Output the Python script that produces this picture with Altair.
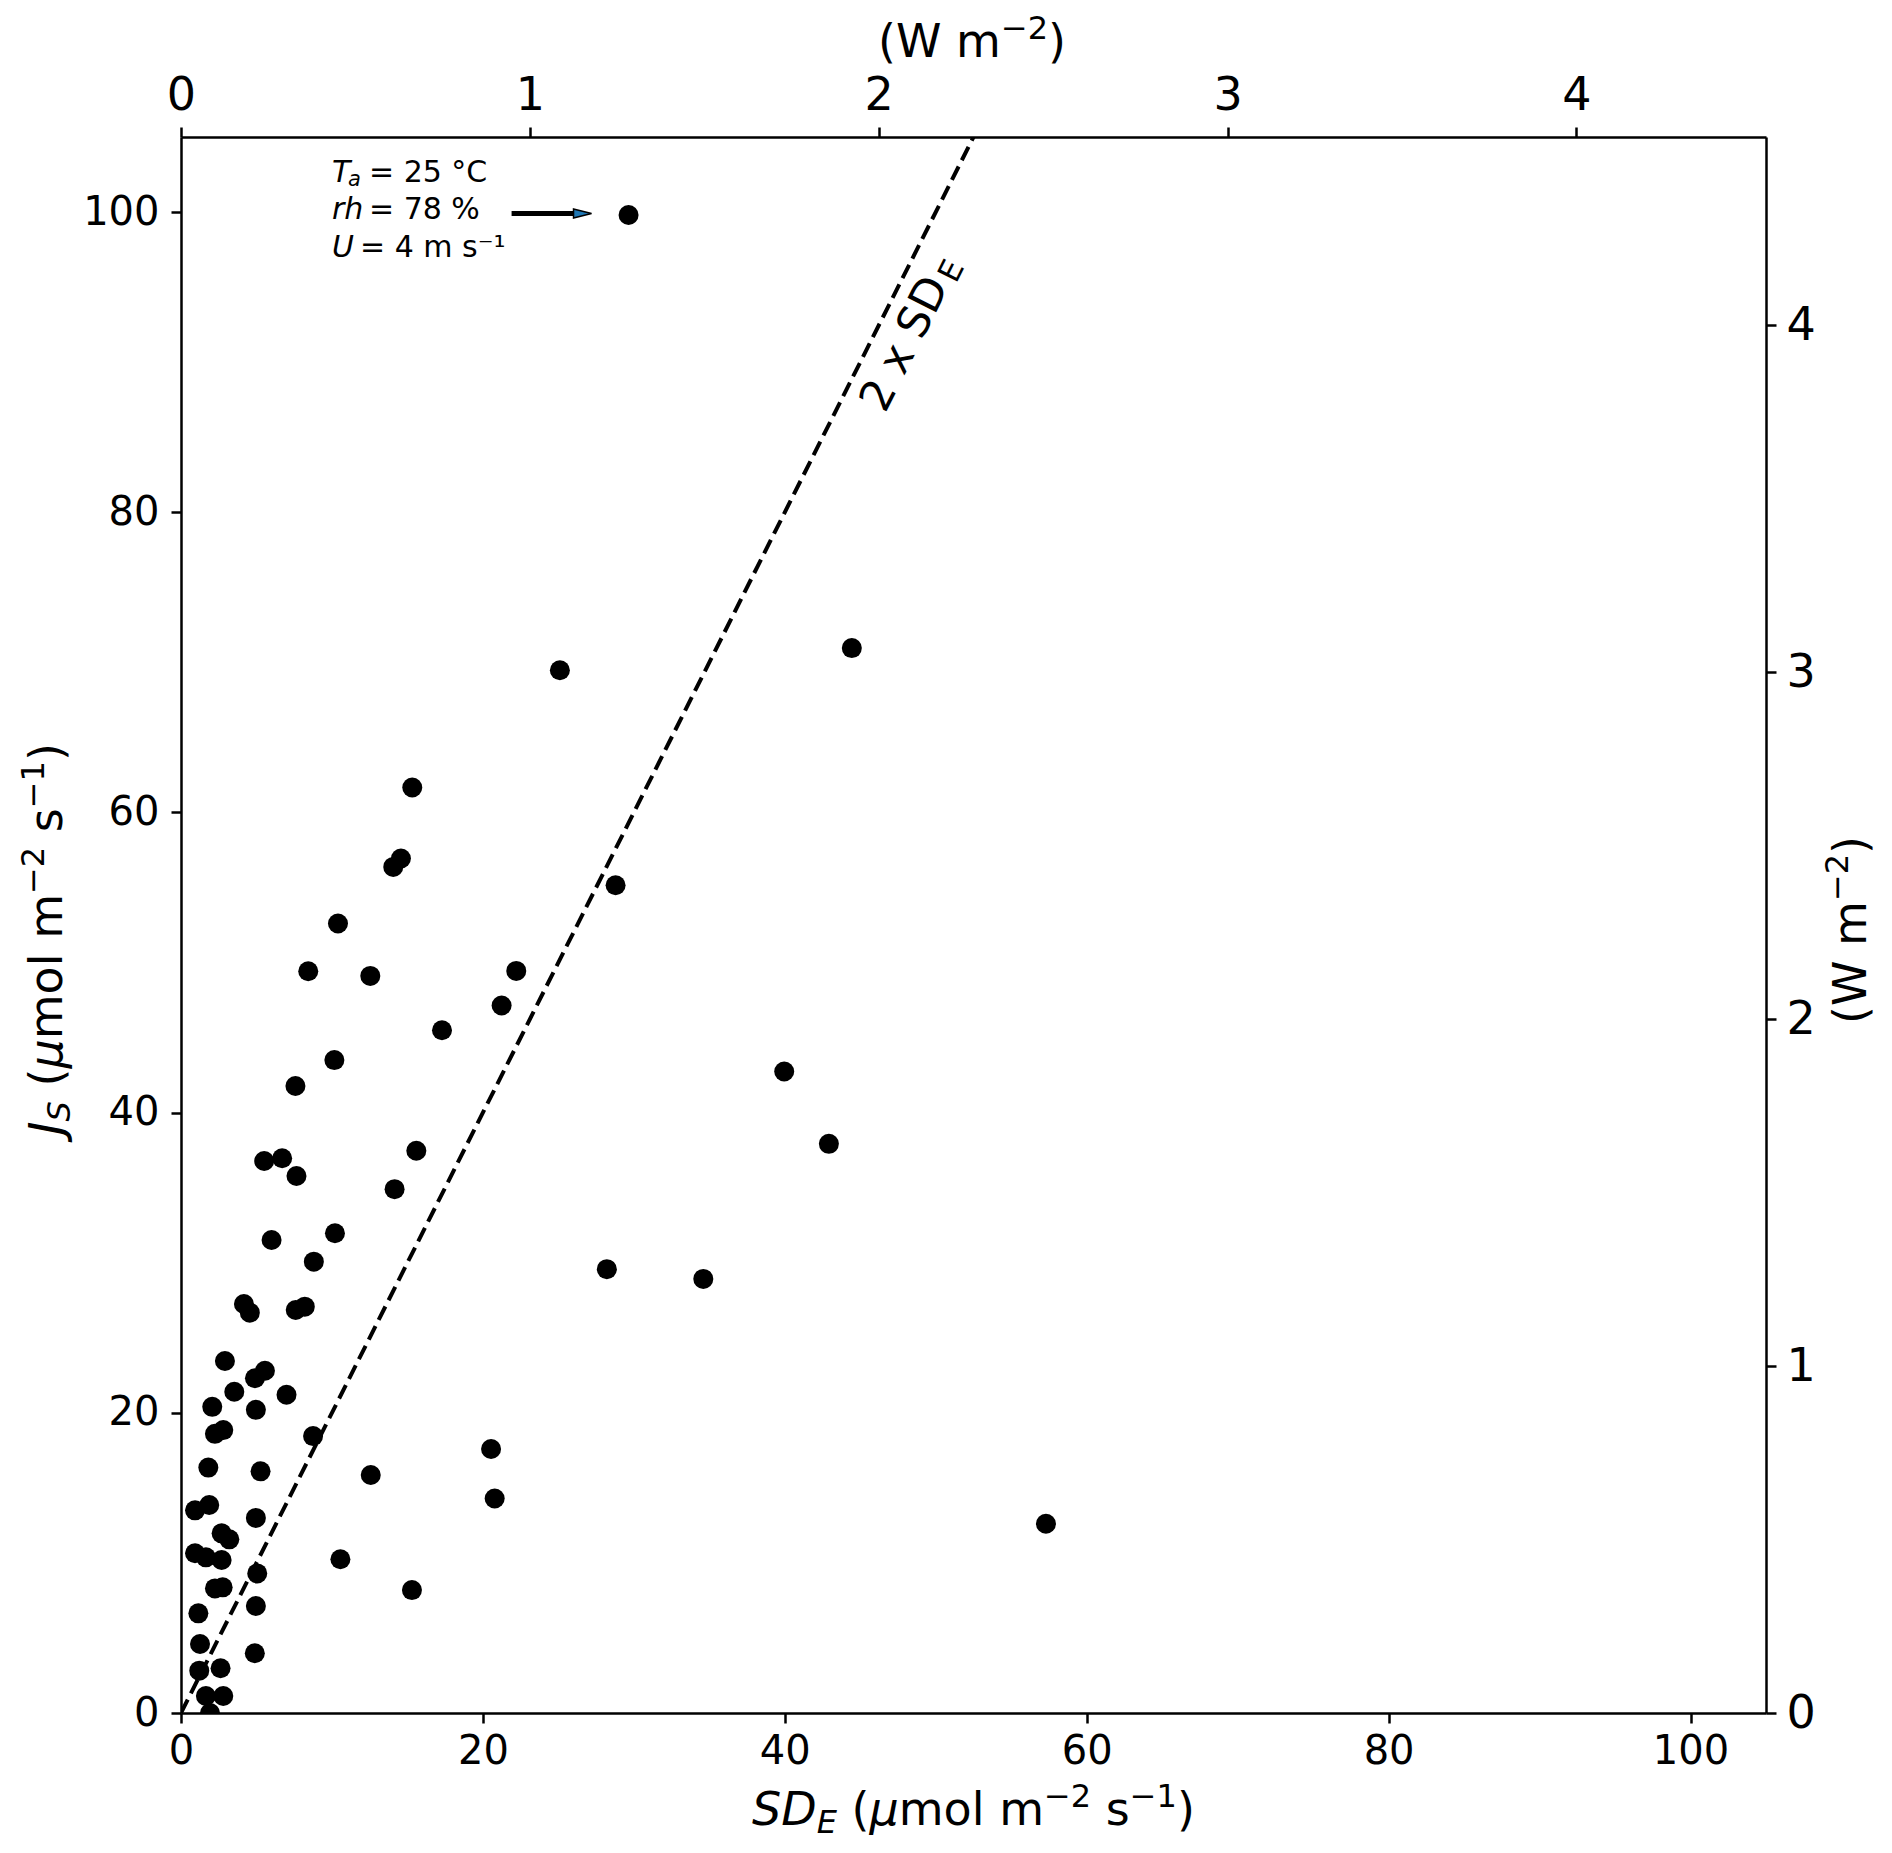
import altair as alt
import pandas as pd

# ---------------- data ----------------
SDE = [29.65, 44.44, 25.1, 15.32, 14.57, 14.06, 28.79, 10.4, 8.43, 12.54,
       22.21, 21.24, 17.29, 10.16, 39.96, 7.58, 42.92, 15.59, 5.51, 6.7,
       7.65, 14.15, 10.2, 6.0, 8.8, 28.21, 34.6, 4.17, 4.56, 7.6,
       8.2, 2.91, 5.56, 4.9, 3.53, 6.99, 2.07, 4.96, 2.8, 2.25,
       8.75, 20.54, 1.81, 5.27, 12.57, 20.78, 1.87, 0.93, 4.96, 2.69,
       3.2, 57.3, 0.93, 1.65, 2.69, 10.56, 5.05, 2.25, 2.76, 15.3,
       4.96, 1.15, 1.26, 4.89, 1.21, 2.62, 1.65, 2.8, 1.92]
JS = [99.8, 70.95, 69.47, 61.66, 56.93, 56.37, 55.15, 52.6, 49.42, 49.11,
      49.44, 47.14, 45.49, 43.5, 42.74, 41.77, 37.92, 37.46, 36.78, 36.96,
      35.78, 34.9, 31.96, 31.51, 30.07, 29.57, 28.92, 27.25, 26.67, 26.85,
      27.07, 23.45, 22.8, 22.3, 21.4, 21.2, 20.4, 20.2, 18.85, 18.6,
      18.45, 17.59, 16.35, 16.1, 15.86, 14.29, 13.86, 13.5, 13.0, 11.97,
      11.57, 12.61, 10.64, 10.37, 10.19, 10.24, 9.3, 8.3, 8.37, 8.19,
      7.13, 6.64, 4.6, 3.98, 2.82, 2.98, 1.13, 1.13, 0.0]

LINE_SDE = [0.0, 52.5]
LINE_JS = [0.0, 105.0]

AXIS_MAX = 105.0
W_PER_UMOL = 0.04327
W_MAX = AXIS_MAX * W_PER_UMOL

X_TICKS = [0, 20, 40, 60, 80, 100]
Y_TICKS = [0, 20, 40, 60, 80, 100]
W_TICKS = [0, 1, 2, 3, 4]

ANNOT_X = 10.0
ANNOT_Y = [102.0, 99.56, 97.0]
ARROW_X = [21.9, 26.0]
ARROW_Y = 99.9
ARROW_HEAD_X = 26.6
LINE_LABEL_X = 48.0
LINE_LABEL_Y = 91.2

FONT = "DejaVu Sans"
W, H = 1585, 1576
FS = 46       # axis-title font size
FSS = 32      # sub/superscript font size

# DejaVu Sans advance widths (em) for text layout of the composed titles
ADV = {"(": 0.390, ")": 0.390, "μ": 0.638, "m": 0.974, "o": 0.612, "l": 0.278,
       " ": 0.318, "s": 0.521, "−": 0.838, "2": 0.636, "1": 0.636, "W": 0.989,
       "S": 0.635, "D": 0.770, "E": 0.632, "J": 0.295}

# ---------------- encodings ----------------
xs = alt.Scale(domain=[0, AXIS_MAX], nice=False, zero=False)
ys = alt.Scale(domain=[0, AXIS_MAX], nice=False, zero=False)

common_axis = dict(grid=False, title=None, format="d", tickSize=10, tickWidth=2.5,
                   domainWidth=2.5, domainColor="black", tickColor="black",
                   labelColor="black", labelFont=FONT, labelFontSize=40,
                   labelFlush=False)

x_enc = alt.X("x:Q", scale=xs,
              axis=alt.Axis(orient="bottom", values=X_TICKS, labelPadding=8, **common_axis))
y_enc = alt.Y("y:Q", scale=ys,
              axis=alt.Axis(orient="left", values=Y_TICKS, labelPadding=12, **common_axis))

pts_df = pd.DataFrame({"x": SDE, "y": JS})
line_df = pd.DataFrame({"x": LINE_SDE, "y": LINE_JS})

line = alt.Chart(line_df).mark_line(color="black", strokeWidth=4, strokeDash=[15, 7],
                                    clip=True).encode(x=x_enc, y=y_enc)
points = alt.Chart(pts_df).mark_circle(size=400, color="black", opacity=1,
                                       clip=True).encode(x=x_enc, y=y_enc)


def data_text(x, y, txt, size, italic=False, dx=0, dy=0, align="left",
              baseline="alphabetic", angle=0):
    df = pd.DataFrame({"x": [x], "y": [y], "t": [txt]})
    return alt.Chart(df).mark_text(
        font=FONT, fontSize=size, fontStyle="italic" if italic else "normal",
        dx=dx, dy=dy, align=align, baseline=baseline, angle=angle, color="black"
    ).encode(x=x_enc, y=y_enc, text="t:N")


def px_text(px, py, txt, size, italic=False, dx=0, dy=0, align="left",
            baseline="alphabetic", angle=0):
    df = pd.DataFrame({"t": [txt]})
    return alt.Chart(df).mark_text(
        font=FONT, fontSize=size, fontStyle="italic" if italic else "normal",
        dx=dx, dy=dy, align=align, baseline=baseline, angle=angle, color="black"
    ).encode(x=alt.value(px), y=alt.value(py), text="t:N")


def width(txt, size):
    return sum(ADV.get(c, 0.6) for c in txt) * size


def compose(pieces, x0, y0, vertical=False):
    """pieces: list of (text, size, italic, dy); a piece that is only spaces just advances."""
    layers = []
    pos = 0.0
    for txt, size, italic, dy in pieces:
        if txt.strip():
            if vertical:
                layers.append(px_text(x0, y0 - pos, txt, size, italic=italic, dy=dy, angle=270))
            else:
                layers.append(px_text(x0 + pos, y0, txt, size, italic=italic, dy=dy))
        pos += width(txt, size)
    return layers


UNIT_PIECES = [("(", FS, False, 0), ("μ", FS, True, 0), ("mol m", FS, False, 0),
               ("−2", FSS, False, -18), (" ", FS, False, 0), ("s", FS, False, 0),
               ("−1", FSS, False, -18), (")", FS, False, 0)]
X_TITLE = [("SD", FS, True, 0), ("E", FSS, True, 8), (" ", FS, False, 0)] + UNIT_PIECES
Y_TITLE = [("J", FS, True, 0), ("S", FSS, True, 8), (" ", FS, False, 0)] + UNIT_PIECES
W_TITLE = [("(W m", FS, False, 0), ("−2", FSS, False, -18), (")", FS, False, 0)]
w_title_len = sum(width(t, s) for t, s, _, _ in W_TITLE)

titles = (compose(X_TITLE, 571, 1688)
          + compose(Y_TITLE, -119, 998, vertical=True)
          + compose(W_TITLE, 791 - w_title_len / 2, -80)
          + compose(W_TITLE, W + 100, 793 + w_title_len / 2, vertical=True))

# annotation block
annot = [
    data_text(ANNOT_X, ANNOT_Y[0], "T", 30, italic=True),
    data_text(ANNOT_X, ANNOT_Y[0], "a", 21, italic=True, dx=16, dy=4),
    data_text(ANNOT_X, ANNOT_Y[0], "= 25 °C", 30, dx=37),
    data_text(ANNOT_X, ANNOT_Y[1], "rh", 30, italic=True),
    data_text(ANNOT_X, ANNOT_Y[1], "= 78 %", 30, dx=37),
    data_text(ANNOT_X, ANNOT_Y[2], "U", 30, italic=True),
    data_text(ANNOT_X, ANNOT_Y[2], "= 4 m s⁻¹", 30, dx=28),
]

arrow_df = pd.DataFrame({"x": [ARROW_X[0]], "x2": [ARROW_X[1]], "y": [ARROW_Y]})
arrow_shaft = alt.Chart(arrow_df).mark_rule(color="black", strokeWidth=5).encode(
    x=x_enc, x2="x2:Q", y=y_enc)
head_df = pd.DataFrame({"x": [ARROW_HEAD_X], "y": [ARROW_Y]})
arrow_head = alt.Chart(head_df).mark_point(
    shape="M -1 -0.5 L 1 0 L -1 0.5 Z", size=324, filled=True, fill="#1f77b4",
    stroke="black", strokeWidth=1.5, opacity=1).encode(x=x_enc, y=y_enc)

# dashed-line label
line_label = [
    data_text(LINE_LABEL_X, LINE_LABEL_Y, "2 x SD", 44, align="center",
              baseline="middle", angle=296.7),
    data_text(LINE_LABEL_X, LINE_LABEL_Y, "E", 31, align="center",
              baseline="middle", angle=296.7, dx=86, dy=9),
]

main = alt.layer(line, points, arrow_shaft, arrow_head, *annot, *line_label, *titles)

sec_axis = dict(grid=False, title=None, tickSize=10, tickWidth=2.5, domainWidth=2.5,
                domainColor="black", tickColor="black", labelColor="black",
                labelFont=FONT, labelFontSize=46, format="d", labelFlush=False)
sec_df = pd.DataFrame({"w": [0.0], "wr": [0.0]})
secondary = alt.Chart(sec_df).mark_point(opacity=0).encode(
    x=alt.X("w:Q", scale=alt.Scale(domain=[0, W_MAX], nice=False, zero=False),
            axis=alt.Axis(orient="top", values=W_TICKS, labelPadding=8, **sec_axis)),
    y=alt.Y("wr:Q", scale=alt.Scale(domain=[0, W_MAX], nice=False, zero=False),
            axis=alt.Axis(orient="right", values=W_TICKS, labelPadding=10, **sec_axis)),
)

chart = alt.layer(main, secondary).resolve_scale(
    x="independent", y="independent"
).properties(
    width=W, height=H,
    padding={"left": 173, "top": 129, "right": 118, "bottom": 130},
    autosize=alt.AutoSizeParams(type="none"),
).configure_view(stroke=None).configure(background="white", font=FONT)

chart.save("out.html", embed_options={"renderer": "svg", "actions": False})
